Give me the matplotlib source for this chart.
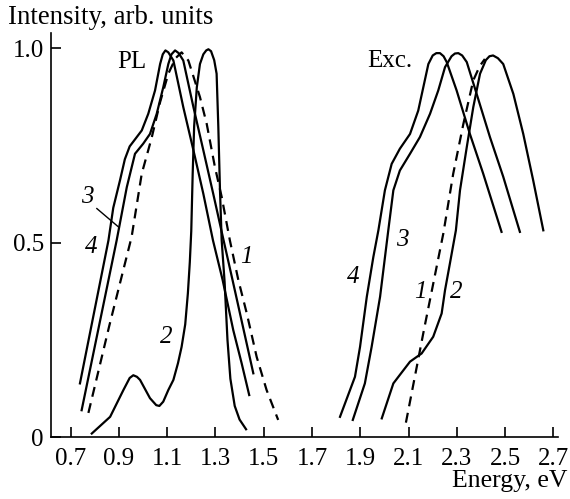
import numpy as np
import matplotlib
matplotlib.use("Agg")
import matplotlib.pyplot as plt

# PL spectra (energy eV, normalized intensity)
pl1_e = [0.774, 0.86, 0.953, 0.995, 1.036, 1.071, 1.105, 1.135, 1.16, 1.188, 1.236, 1.264,
         1.298, 1.326, 1.36, 1.395, 1.43, 1.471, 1.512, 1.56]
pl1_i = [0.062, 0.285, 0.515, 0.678, 0.770, 0.862, 0.935, 0.975, 0.99, 0.969, 0.875, 0.806,
         0.695, 0.618, 0.506, 0.404, 0.318, 0.206, 0.121, 0.044]

pl2_e = [0.788, 0.864, 0.919, 0.945, 0.96, 0.975, 0.988, 1.029, 1.055, 1.068, 1.084, 1.105,
         1.126, 1.145, 1.16, 1.175, 1.186, 1.194, 1.2, 1.206, 1.212, 1.223, 1.236, 1.25,
         1.262, 1.271, 1.282, 1.295, 1.305, 1.312, 1.319, 1.326, 1.338, 1.35, 1.362, 1.38,
         1.40, 1.427]
pl2_i = [0.009, 0.052, 0.121, 0.152, 0.159, 0.155, 0.147, 0.100, 0.082, 0.080, 0.091, 0.121,
         0.147, 0.19, 0.232, 0.29, 0.37, 0.45, 0.53, 0.68, 0.80, 0.90, 0.96, 0.985,
         0.995, 0.998, 0.993, 0.97, 0.935, 0.80, 0.635, 0.506, 0.40, 0.25, 0.15, 0.08,
         0.045, 0.02]

pl3_e = [0.746, 0.891, 0.933, 0.967, 1.001, 1.029, 1.057, 1.084, 1.105, 1.118, 1.133, 1.148,
         1.167, 1.209, 1.25, 1.291, 1.334, 1.371, 1.414, 1.457]
pl3_i = [0.069, 0.506, 0.643, 0.729, 0.755, 0.780, 0.832, 0.900, 0.960, 0.985, 0.995, 0.988,
         0.969, 0.849, 0.738, 0.626, 0.506, 0.404, 0.284, 0.164]

pl4_e = [0.739, 0.857, 0.877, 0.905, 0.925, 0.945, 0.967, 0.995, 1.022, 1.05, 1.071, 1.082,
         1.093, 1.105, 1.126, 1.167, 1.209, 1.25, 1.29, 1.33, 1.374, 1.409, 1.44]
pl4_i = [0.138, 0.506, 0.590, 0.661, 0.715, 0.748, 0.766, 0.789, 0.832, 0.892, 0.960, 0.985,
         0.995, 0.990, 0.969, 0.849, 0.738, 0.626, 0.506, 0.404, 0.275, 0.189, 0.108]

# excitation spectra
exc1_e = [2.089, 2.165, 2.244, 2.285, 2.327, 2.368, 2.395, 2.416]
exc1_i = [0.037, 0.28, 0.524, 0.678, 0.806, 0.918, 0.955, 0.973]

exc2_e = [1.989, 2.037, 2.064, 2.106, 2.154, 2.202, 2.237, 2.251, 2.271, 2.296, 2.313, 2.341,
          2.368, 2.396, 2.42, 2.435, 2.45, 2.47, 2.492, 2.534, 2.575, 2.616, 2.658]
exc2_i = [0.048, 0.138, 0.160, 0.194, 0.215, 0.258, 0.318, 0.378, 0.446, 0.532, 0.635, 0.746,
          0.849, 0.935, 0.970, 0.980, 0.982, 0.975, 0.960, 0.883, 0.780, 0.661, 0.532]

exc3_e = [1.869, 1.919, 1.947, 1.982, 2.016, 2.037, 2.064, 2.106, 2.147, 2.189, 2.223, 2.251,
          2.278, 2.292, 2.306, 2.322, 2.341, 2.382, 2.437, 2.492, 2.561]
exc3_i = [0.044, 0.138, 0.232, 0.361, 0.532, 0.635, 0.686, 0.729, 0.772, 0.832, 0.892, 0.952,
          0.980, 0.987, 0.988, 0.982, 0.965, 0.883, 0.772, 0.670, 0.528]

exc4_e = [1.816, 1.878, 1.899, 1.927, 1.954, 1.975, 2.002, 2.03, 2.064, 2.106, 2.14, 2.161,
          2.182, 2.2, 2.215, 2.23, 2.245, 2.258, 2.299, 2.354, 2.409, 2.485]
exc4_i = [0.052, 0.155, 0.232, 0.361, 0.463, 0.532, 0.635, 0.703, 0.742, 0.780, 0.840, 0.900,
          0.960, 0.982, 0.988, 0.988, 0.980, 0.965, 0.892, 0.780, 0.678, 0.528]

x_ticks = [0.7, 0.9, 1.1, 1.3, 1.5, 1.7, 1.9, 2.1, 2.3, 2.5, 2.7]
y_ticks = [0, 0.5, 1.0]
y_tick_labels = ['0', '0.5', '1.0']


def main():
    plt.rcParams['font.family'] = ['Liberation Serif', 'DejaVu Serif']
    fig = plt.figure(figsize=(5.7, 4.99), dpi=100)
    ax = fig.add_axes([0.089, 0.1242, 0.89, 0.8098])

    lw = 1.6
    dash = (0, (4.5, 3))
    # PL curves
    ax.plot(pl1_e, pl1_i, color='black', lw=lw, linestyle=dash)
    ax.plot(pl2_e, pl2_i, color='black', lw=lw)
    ax.plot(pl3_e, pl3_i, color='black', lw=lw)
    ax.plot(pl4_e, pl4_i, color='black', lw=lw)
    # Exc curves
    ax.plot(exc1_e, exc1_i, color='black', lw=lw, linestyle=dash)
    ax.plot(exc2_e, exc2_i, color='black', lw=lw)
    ax.plot(exc3_e, exc3_i, color='black', lw=lw)
    ax.plot(exc4_e, exc4_i, color='black', lw=lw)

    ax.set_xlim(0.618, 2.719)
    ax.set_ylim(0, 1.04)
    ax.set_xticks(x_ticks)
    ax.set_xticklabels([f'{v:.1f}' for v in x_ticks])
    ax.set_yticks(y_ticks)
    ax.set_yticklabels(y_tick_labels)
    ax.tick_params(direction='in', length=7, width=1.2, labelsize=18)
    ax.tick_params(axis='x', pad=8)
    ax.tick_params(axis='y', pad=5)
    for side in ['top', 'right']:
        ax.spines[side].set_visible(False)
    for side in ['left', 'bottom']:
        ax.spines[side].set_linewidth(1.2)

    # panel labels
    ax.text(0.955, 0.965, 'PL', fontsize=18, ha='center', va='center')
    ax.text(2.023, 0.969, 'Exc.', fontsize=18, ha='center', va='center')

    # curve numbers
    num = dict(fontsize=18, style='italic', ha='center', va='center')
    ax.text(0.77, 0.618, '3', **num)
    ax.plot([0.809, 0.898], [0.588, 0.541], color='black', lw=1.0)
    ax.text(0.785, 0.488, '4', **num)
    ax.text(1.43, 0.463, '1', **num)
    ax.text(1.098, 0.258, '2', **num)
    ax.text(1.871, 0.412, '4', **num)
    ax.text(2.076, 0.506, '3', **num)
    ax.text(2.147, 0.374, '1', **num)
    ax.text(2.296, 0.374, '2', **num)

    fig.text(8 / 570, 1 - 17 / 499, 'Intensity, arb. units', fontsize=19.3, ha='left', va='center')
    fig.text(567 / 570, 1 - 481 / 499, 'Energy, eV', fontsize=18.5, ha='right', va='center')

    fig.savefig('out.png', dpi=100)


if __name__ == "__main__":
    main()
